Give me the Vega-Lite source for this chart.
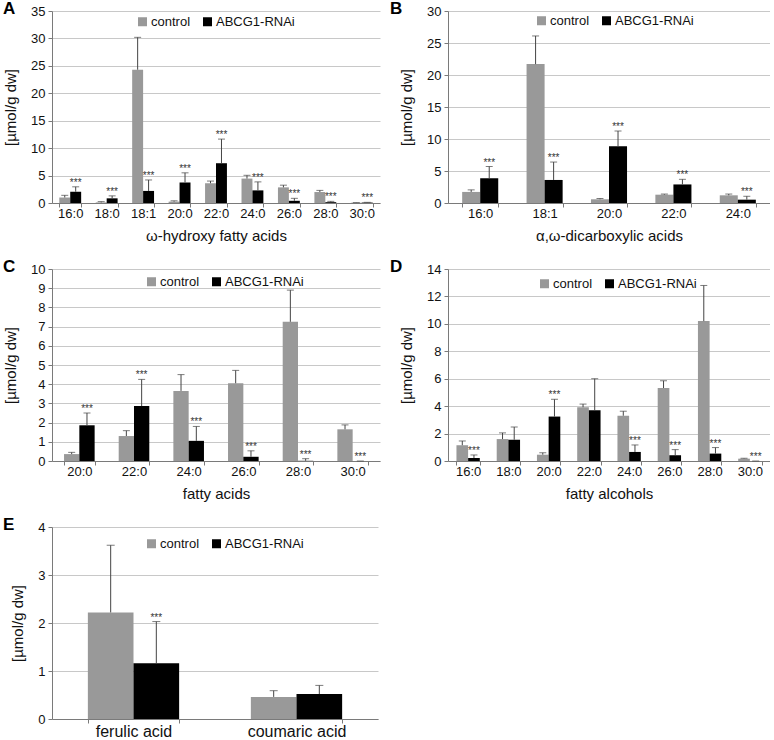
{
  "$schema": "https://vega.github.io/schema/vega-lite/v6.json",
  "padding": {"left": 3, "top": 0, "right": 0, "bottom": 0},
  "background": "white",
  "spacing": {"row": 15, "column": 10},
  "columns": 2,
  "datasets": {
    "A": [
      {"cat": "16:0", "group": "control", "value": 1.0, "err": 1.4, "sig": false},
      {"cat": "16:0", "group": "ABCG1-RNAi", "value": 2.05, "err": 2.95, "sig": true},
      {"cat": "18:0", "group": "control", "value": 0.1, "err": 0.25, "sig": false},
      {"cat": "18:0", "group": "ABCG1-RNAi", "value": 0.85, "err": 1.3, "sig": true},
      {"cat": "18:1", "group": "control", "value": 24.3, "err": 30.2, "sig": false},
      {"cat": "18:1", "group": "ABCG1-RNAi", "value": 2.2, "err": 4.2, "sig": true},
      {"cat": "20:0", "group": "control", "value": 0.25, "err": 0.4, "sig": false},
      {"cat": "20:0", "group": "ABCG1-RNAi", "value": 3.75, "err": 5.5, "sig": true},
      {"cat": "22:0", "group": "control", "value": 3.6, "err": 4.0, "sig": false},
      {"cat": "22:0", "group": "ABCG1-RNAi", "value": 7.25, "err": 11.65, "sig": true},
      {"cat": "24:0", "group": "control", "value": 4.45, "err": 5.05, "sig": false},
      {"cat": "24:0", "group": "ABCG1-RNAi", "value": 2.3, "err": 3.85, "sig": true},
      {"cat": "26:0", "group": "control", "value": 2.85, "err": 3.25, "sig": false},
      {"cat": "26:0", "group": "ABCG1-RNAi", "value": 0.4, "err": 0.85, "sig": true},
      {"cat": "28:0", "group": "control", "value": 2.0, "err": 2.3, "sig": false},
      {"cat": "28:0", "group": "ABCG1-RNAi", "value": 0.15, "err": 0.3, "sig": true},
      {"cat": "30:0", "group": "control", "value": 0.05, "err": 0.08, "sig": false},
      {"cat": "30:0", "group": "ABCG1-RNAi", "value": 0.08, "err": 0.12, "sig": true}
    ],
    "B": [
      {"cat": "16:0", "group": "control", "value": 1.73, "err": 2.05, "sig": false},
      {"cat": "16:0", "group": "ABCG1-RNAi", "value": 3.87, "err": 5.7, "sig": true},
      {"cat": "18:1", "group": "control", "value": 21.7, "err": 26.1, "sig": false},
      {"cat": "18:1", "group": "ABCG1-RNAi", "value": 3.6, "err": 6.4, "sig": true},
      {"cat": "20:0", "group": "control", "value": 0.58, "err": 0.7, "sig": false},
      {"cat": "20:0", "group": "ABCG1-RNAi", "value": 8.85, "err": 11.25, "sig": true},
      {"cat": "22:0", "group": "control", "value": 1.3, "err": 1.4, "sig": false},
      {"cat": "22:0", "group": "ABCG1-RNAi", "value": 2.9, "err": 3.7, "sig": true},
      {"cat": "24:0", "group": "control", "value": 1.2, "err": 1.4, "sig": false},
      {"cat": "24:0", "group": "ABCG1-RNAi", "value": 0.52, "err": 1.05, "sig": true}
    ],
    "C": [
      {"cat": "20:0", "group": "control", "value": 0.36, "err": 0.45, "sig": false},
      {"cat": "20:0", "group": "ABCG1-RNAi", "value": 1.86, "err": 2.5, "sig": true},
      {"cat": "22:0", "group": "control", "value": 1.3, "err": 1.58, "sig": false},
      {"cat": "22:0", "group": "ABCG1-RNAi", "value": 2.86, "err": 4.25, "sig": true},
      {"cat": "24:0", "group": "control", "value": 3.65, "err": 4.5, "sig": false},
      {"cat": "24:0", "group": "ABCG1-RNAi", "value": 1.05, "err": 1.8, "sig": true},
      {"cat": "26:0", "group": "control", "value": 4.05, "err": 4.72, "sig": false},
      {"cat": "26:0", "group": "ABCG1-RNAi", "value": 0.22, "err": 0.53, "sig": true},
      {"cat": "28:0", "group": "control", "value": 7.25, "err": 8.9, "sig": false},
      {"cat": "28:0", "group": "ABCG1-RNAi", "value": 0.01, "err": 0.12, "sig": true},
      {"cat": "30:0", "group": "control", "value": 1.65, "err": 1.88, "sig": false},
      {"cat": "30:0", "group": "ABCG1-RNAi", "value": 0.0, "err": 0.0, "sig": true}
    ],
    "D": [
      {"cat": "16:0", "group": "control", "value": 1.15, "err": 1.46, "sig": false},
      {"cat": "16:0", "group": "ABCG1-RNAi", "value": 0.22, "err": 0.44, "sig": true},
      {"cat": "18:0", "group": "control", "value": 1.6, "err": 2.05, "sig": false},
      {"cat": "18:0", "group": "ABCG1-RNAi", "value": 1.55, "err": 2.48, "sig": false},
      {"cat": "20:0", "group": "control", "value": 0.46, "err": 0.6, "sig": false},
      {"cat": "20:0", "group": "ABCG1-RNAi", "value": 3.24, "err": 4.5, "sig": true},
      {"cat": "22:0", "group": "control", "value": 3.92, "err": 4.15, "sig": false},
      {"cat": "22:0", "group": "ABCG1-RNAi", "value": 3.7, "err": 6.0, "sig": false},
      {"cat": "24:0", "group": "control", "value": 3.3, "err": 3.63, "sig": false},
      {"cat": "24:0", "group": "ABCG1-RNAi", "value": 0.66, "err": 1.17, "sig": true},
      {"cat": "26:0", "group": "control", "value": 5.32, "err": 5.85, "sig": false},
      {"cat": "26:0", "group": "ABCG1-RNAi", "value": 0.42, "err": 0.83, "sig": true},
      {"cat": "28:0", "group": "control", "value": 10.2, "err": 12.8, "sig": false},
      {"cat": "28:0", "group": "ABCG1-RNAi", "value": 0.54, "err": 0.98, "sig": true},
      {"cat": "30:0", "group": "control", "value": 0.17, "err": 0.2, "sig": false},
      {"cat": "30:0", "group": "ABCG1-RNAi", "value": 0.0, "err": 0.0, "sig": true}
    ],
    "E": [
      {"cat": "ferulic acid", "group": "control", "value": 2.22, "err": 3.62, "sig": false},
      {"cat": "ferulic acid", "group": "ABCG1-RNAi", "value": 1.16, "err": 2.03, "sig": true},
      {"cat": "coumaric acid", "group": "control", "value": 0.46, "err": 0.59, "sig": false},
      {"cat": "coumaric acid", "group": "ABCG1-RNAi", "value": 0.52, "err": 0.7, "sig": false}
    ]
  },
  "concat": [
    {
      "width": 328, "height": 192,
      "title": {"text": "A", "anchor": "start", "frame": "group", "dx": -49, "fontSize": 17, "fontWeight": "bold", "offset": -13},
      "data": {"name": "A"},
      "encoding": {
        "x": {"field": "cat", "type": "nominal", "sort": null, "scale": {"type": "band", "paddingInner": 0.4, "paddingOuter": 0.2}, "axis": {"title": "ω-hydroxy fatty acids"}}
      },
      "layer": [
        {"transform": [{"filter": "datum.group == 'control'"}], "mark": {"type": "bar", "width": {"band": 0.5}, "xOffset": -5.47}, "encoding": {
          "y": {"field": "value", "type": "quantitative", "title": "[µmol/g dw]", "scale": {"domain": [0, 35]}, "axis": {"values": [0, 5, 10, 15, 20, 25, 30, 35]}},
          "color": {"field": "group", "type": "nominal", "scale": {"domain": ["control", "ABCG1-RNAi"], "range": ["#999999", "#000000"]}, "legend": {"legendX": 84, "legendY": 4}}}},
        {"transform": [{"filter": "datum.group != 'control'"}], "mark": {"type": "bar", "width": {"band": 0.5}, "xOffset": 5.47}, "encoding": {
          "y": {"field": "value", "type": "quantitative", "title": "[µmol/g dw]", "axis": {"values": [0, 5, 10, 15, 20, 25, 30, 35]}},
          "color": {"field": "group", "type": "nominal"}}},
        {"transform": [{"filter": "datum.group == 'control'"}], "mark": {"type": "rule", "color": "#444444", "xOffset": -5.47}, "encoding": {"y": {"field": "value", "type": "quantitative", "title": "[µmol/g dw]", "axis": {"values": [0, 5, 10, 15, 20, 25, 30, 35]}}, "y2": {"field": "err"}}},
        {"transform": [{"filter": "datum.group != 'control'"}], "mark": {"type": "rule", "color": "#444444", "xOffset": 5.47}, "encoding": {"y": {"field": "value", "type": "quantitative", "title": "[µmol/g dw]", "axis": {"values": [0, 5, 10, 15, 20, 25, 30, 35]}}, "y2": {"field": "err"}}},
        {"transform": [{"filter": "datum.group == 'control'"}], "mark": {"type": "tick", "color": "#444444", "thickness": 1, "size": 7, "xOffset": -5.47}, "encoding": {"y": {"field": "err", "type": "quantitative", "title": "[µmol/g dw]", "axis": {"values": [0, 5, 10, 15, 20, 25, 30, 35]}}}},
        {"transform": [{"filter": "datum.group != 'control'"}], "mark": {"type": "tick", "color": "#444444", "thickness": 1, "size": 7, "xOffset": 5.47}, "encoding": {"y": {"field": "err", "type": "quantitative", "title": "[µmol/g dw]", "axis": {"values": [0, 5, 10, 15, 20, 25, 30, 35]}}}},
        {"transform": [{"filter": "datum.sig && datum.group != 'control'"}], "mark": {"type": "text", "text": "***", "fontSize": 10, "dy": -1, "xOffset": 5.47, "baseline": "alphabetic", "color": "#333333"}, "encoding": {"y": {"field": "err", "type": "quantitative", "title": "[µmol/g dw]", "axis": {"values": [0, 5, 10, 15, 20, 25, 30, 35]}}}}
      ]
    },
    {
      "width": 322, "height": 192,
      "title": {"text": "B", "anchor": "start", "frame": "group", "dx": -58, "fontSize": 17, "fontWeight": "bold", "offset": -13},
      "data": {"name": "B"},
      "encoding": {
        "x": {"field": "cat", "type": "nominal", "sort": null, "scale": {"type": "band", "paddingInner": 0.44, "paddingOuter": 0.22}, "axis": {"title": "α,ω-dicarboxylic acids"}}
      },
      "layer": [
        {"transform": [{"filter": "datum.group == 'control'"}], "mark": {"type": "bar", "width": {"band": 0.5}, "xOffset": -9.02}, "encoding": {
          "y": {"field": "value", "type": "quantitative", "title": "[µmol/g dw]", "scale": {"domain": [0, 30]}, "axis": {"values": [0, 5, 10, 15, 20, 25, 30]}},
          "color": {"field": "group", "type": "nominal", "scale": {"domain": ["control", "ABCG1-RNAi"], "range": ["#999999", "#000000"]}, "legend": {"legendX": 87, "legendY": 3}}}},
        {"transform": [{"filter": "datum.group != 'control'"}], "mark": {"type": "bar", "width": {"band": 0.5}, "xOffset": 9.02}, "encoding": {
          "y": {"field": "value", "type": "quantitative", "title": "[µmol/g dw]", "axis": {"values": [0, 5, 10, 15, 20, 25, 30]}},
          "color": {"field": "group", "type": "nominal"}}},
        {"transform": [{"filter": "datum.group == 'control'"}], "mark": {"type": "rule", "color": "#444444", "xOffset": -9.02}, "encoding": {"y": {"field": "value", "type": "quantitative", "title": "[µmol/g dw]", "axis": {"values": [0, 5, 10, 15, 20, 25, 30]}}, "y2": {"field": "err"}}},
        {"transform": [{"filter": "datum.group != 'control'"}], "mark": {"type": "rule", "color": "#444444", "xOffset": 9.02}, "encoding": {"y": {"field": "value", "type": "quantitative", "title": "[µmol/g dw]", "axis": {"values": [0, 5, 10, 15, 20, 25, 30]}}, "y2": {"field": "err"}}},
        {"transform": [{"filter": "datum.group == 'control'"}], "mark": {"type": "tick", "color": "#444444", "thickness": 1, "size": 7, "xOffset": -9.02}, "encoding": {"y": {"field": "err", "type": "quantitative", "title": "[µmol/g dw]", "axis": {"values": [0, 5, 10, 15, 20, 25, 30]}}}},
        {"transform": [{"filter": "datum.group != 'control'"}], "mark": {"type": "tick", "color": "#444444", "thickness": 1, "size": 7, "xOffset": 9.02}, "encoding": {"y": {"field": "err", "type": "quantitative", "title": "[µmol/g dw]", "axis": {"values": [0, 5, 10, 15, 20, 25, 30]}}}},
        {"transform": [{"filter": "datum.sig && datum.group != 'control'"}], "mark": {"type": "text", "text": "***", "fontSize": 10, "dy": -1, "xOffset": 9.02, "baseline": "alphabetic", "color": "#333333"}, "encoding": {"y": {"field": "err", "type": "quantitative", "title": "[µmol/g dw]", "axis": {"values": [0, 5, 10, 15, 20, 25, 30]}}}}
      ]
    },
    {
      "width": 328, "height": 192,
      "title": {"text": "C", "anchor": "start", "frame": "group", "dx": -49, "fontSize": 17, "fontWeight": "bold", "offset": -13},
      "data": {"name": "C"},
      "encoding": {
        "x": {"field": "cat", "type": "nominal", "sort": null, "scale": {"type": "band", "paddingInner": 0.44, "paddingOuter": 0.22}, "axis": {"title": "fatty acids"}}
      },
      "layer": [
        {"transform": [{"filter": "datum.group == 'control'"}], "mark": {"type": "bar", "width": {"band": 0.5}, "xOffset": -7.65}, "encoding": {
          "y": {"field": "value", "type": "quantitative", "title": "[µmol/g dw]", "scale": {"domain": [0, 10]}, "axis": {"values": [0, 1, 2, 3, 4, 5, 6, 7, 8, 9, 10]}},
          "color": {"field": "group", "type": "nominal", "scale": {"domain": ["control", "ABCG1-RNAi"], "range": ["#999999", "#000000"]}, "legend": {"legendX": 93, "legendY": 6}}}},
        {"transform": [{"filter": "datum.group != 'control'"}], "mark": {"type": "bar", "width": {"band": 0.5}, "xOffset": 7.65}, "encoding": {
          "y": {"field": "value", "type": "quantitative", "title": "[µmol/g dw]", "axis": {"values": [0, 1, 2, 3, 4, 5, 6, 7, 8, 9, 10]}},
          "color": {"field": "group", "type": "nominal"}}},
        {"transform": [{"filter": "datum.group == 'control'"}], "mark": {"type": "rule", "color": "#444444", "xOffset": -7.65}, "encoding": {"y": {"field": "value", "type": "quantitative", "title": "[µmol/g dw]", "axis": {"values": [0, 1, 2, 3, 4, 5, 6, 7, 8, 9, 10]}}, "y2": {"field": "err"}}},
        {"transform": [{"filter": "datum.group != 'control'"}], "mark": {"type": "rule", "color": "#444444", "xOffset": 7.65}, "encoding": {"y": {"field": "value", "type": "quantitative", "title": "[µmol/g dw]", "axis": {"values": [0, 1, 2, 3, 4, 5, 6, 7, 8, 9, 10]}}, "y2": {"field": "err"}}},
        {"transform": [{"filter": "datum.group == 'control'"}], "mark": {"type": "tick", "color": "#444444", "thickness": 1, "size": 7, "xOffset": -7.65}, "encoding": {"y": {"field": "err", "type": "quantitative", "title": "[µmol/g dw]", "axis": {"values": [0, 1, 2, 3, 4, 5, 6, 7, 8, 9, 10]}}}},
        {"transform": [{"filter": "datum.group != 'control'"}], "mark": {"type": "tick", "color": "#444444", "thickness": 1, "size": 7, "xOffset": 7.65}, "encoding": {"y": {"field": "err", "type": "quantitative", "title": "[µmol/g dw]", "axis": {"values": [0, 1, 2, 3, 4, 5, 6, 7, 8, 9, 10]}}}},
        {"transform": [{"filter": "datum.sig && datum.group != 'control'"}], "mark": {"type": "text", "text": "***", "fontSize": 10, "dy": -1, "xOffset": 7.65, "baseline": "alphabetic", "color": "#333333"}, "encoding": {"y": {"field": "err", "type": "quantitative", "title": "[µmol/g dw]", "axis": {"values": [0, 1, 2, 3, 4, 5, 6, 7, 8, 9, 10]}}}}
      ]
    },
    {
      "width": 322, "height": 192,
      "title": {"text": "D", "anchor": "start", "frame": "group", "dx": -58, "fontSize": 17, "fontWeight": "bold", "offset": -13},
      "data": {"name": "D"},
      "encoding": {
        "x": {"field": "cat", "type": "nominal", "sort": null, "scale": {"type": "band", "paddingInner": 0.42, "paddingOuter": 0.21}, "axis": {"title": "fatty alcohols"}}
      },
      "layer": [
        {"transform": [{"filter": "datum.group == 'control'"}], "mark": {"type": "bar", "width": {"band": 0.5}, "xOffset": -5.84}, "encoding": {
          "y": {"field": "value", "type": "quantitative", "title": "[µmol/g dw]", "scale": {"domain": [0, 14]}, "axis": {"values": [0, 2, 4, 6, 8, 10, 12, 14]}},
          "color": {"field": "group", "type": "nominal", "scale": {"domain": ["control", "ABCG1-RNAi"], "range": ["#999999", "#000000"]}, "legend": {"legendX": 90, "legendY": 8}}}},
        {"transform": [{"filter": "datum.group != 'control'"}], "mark": {"type": "bar", "width": {"band": 0.5}, "xOffset": 5.84}, "encoding": {
          "y": {"field": "value", "type": "quantitative", "title": "[µmol/g dw]", "axis": {"values": [0, 2, 4, 6, 8, 10, 12, 14]}},
          "color": {"field": "group", "type": "nominal"}}},
        {"transform": [{"filter": "datum.group == 'control'"}], "mark": {"type": "rule", "color": "#444444", "xOffset": -5.84}, "encoding": {"y": {"field": "value", "type": "quantitative", "title": "[µmol/g dw]", "axis": {"values": [0, 2, 4, 6, 8, 10, 12, 14]}}, "y2": {"field": "err"}}},
        {"transform": [{"filter": "datum.group != 'control'"}], "mark": {"type": "rule", "color": "#444444", "xOffset": 5.84}, "encoding": {"y": {"field": "value", "type": "quantitative", "title": "[µmol/g dw]", "axis": {"values": [0, 2, 4, 6, 8, 10, 12, 14]}}, "y2": {"field": "err"}}},
        {"transform": [{"filter": "datum.group == 'control'"}], "mark": {"type": "tick", "color": "#444444", "thickness": 1, "size": 7, "xOffset": -5.84}, "encoding": {"y": {"field": "err", "type": "quantitative", "title": "[µmol/g dw]", "axis": {"values": [0, 2, 4, 6, 8, 10, 12, 14]}}}},
        {"transform": [{"filter": "datum.group != 'control'"}], "mark": {"type": "tick", "color": "#444444", "thickness": 1, "size": 7, "xOffset": 5.84}, "encoding": {"y": {"field": "err", "type": "quantitative", "title": "[µmol/g dw]", "axis": {"values": [0, 2, 4, 6, 8, 10, 12, 14]}}}},
        {"transform": [{"filter": "datum.sig && datum.group != 'control'"}], "mark": {"type": "text", "text": "***", "fontSize": 10, "dy": -1, "xOffset": 5.84, "baseline": "alphabetic", "color": "#333333"}, "encoding": {"y": {"field": "err", "type": "quantitative", "title": "[µmol/g dw]", "axis": {"values": [0, 2, 4, 6, 8, 10, 12, 14]}}}}
      ]
    },
    {
      "width": 326, "height": 192,
      "title": {"text": "E", "anchor": "start", "frame": "group", "dx": -49, "fontSize": 17, "fontWeight": "bold", "offset": -13},
      "data": {"name": "E"},
      "encoding": {
        "x": {"field": "cat", "type": "nominal", "sort": null, "scale": {"type": "band", "paddingInner": 0.44, "paddingOuter": 0.22}, "axis": {"title": null, "labelFontSize": 16}}
      },
      "layer": [
        {"transform": [{"filter": "datum.group == 'control'"}], "mark": {"type": "bar", "width": {"band": 0.5}, "xOffset": -22.82}, "encoding": {
          "y": {"field": "value", "type": "quantitative", "title": "[µmol/g dw]", "scale": {"domain": [0, 4]}, "axis": {"values": [0, 1, 2, 3, 4]}},
          "color": {"field": "group", "type": "nominal", "scale": {"domain": ["control", "ABCG1-RNAi"], "range": ["#999999", "#000000"]}, "legend": {"legendX": 93, "legendY": 10}}}},
        {"transform": [{"filter": "datum.group != 'control'"}], "mark": {"type": "bar", "width": {"band": 0.5}, "xOffset": 22.82}, "encoding": {
          "y": {"field": "value", "type": "quantitative", "title": "[µmol/g dw]", "axis": {"values": [0, 1, 2, 3, 4]}},
          "color": {"field": "group", "type": "nominal"}}},
        {"transform": [{"filter": "datum.group == 'control'"}], "mark": {"type": "rule", "color": "#444444", "xOffset": -22.82}, "encoding": {"y": {"field": "value", "type": "quantitative", "title": "[µmol/g dw]", "axis": {"values": [0, 1, 2, 3, 4]}}, "y2": {"field": "err"}}},
        {"transform": [{"filter": "datum.group != 'control'"}], "mark": {"type": "rule", "color": "#444444", "xOffset": 22.82}, "encoding": {"y": {"field": "value", "type": "quantitative", "title": "[µmol/g dw]", "axis": {"values": [0, 1, 2, 3, 4]}}, "y2": {"field": "err"}}},
        {"transform": [{"filter": "datum.group == 'control'"}], "mark": {"type": "tick", "color": "#444444", "thickness": 1, "size": 8, "xOffset": -22.82}, "encoding": {"y": {"field": "err", "type": "quantitative", "title": "[µmol/g dw]", "axis": {"values": [0, 1, 2, 3, 4]}}}},
        {"transform": [{"filter": "datum.group != 'control'"}], "mark": {"type": "tick", "color": "#444444", "thickness": 1, "size": 8, "xOffset": 22.82}, "encoding": {"y": {"field": "err", "type": "quantitative", "title": "[µmol/g dw]", "axis": {"values": [0, 1, 2, 3, 4]}}}},
        {"transform": [{"filter": "datum.sig && datum.group != 'control'"}], "mark": {"type": "text", "text": "***", "fontSize": 10, "dy": -1, "xOffset": 22.82, "baseline": "alphabetic", "color": "#333333"}, "encoding": {"y": {"field": "err", "type": "quantitative", "title": "[µmol/g dw]", "axis": {"values": [0, 1, 2, 3, 4]}}}}
      ]
    }
  ],
  "resolve": {"scale": {"color": "independent"}, "legend": {"color": "independent"}},
  "config": {
    "font": "Liberation Sans",
    "view": {"stroke": null},
    "title": {"color": "#000000"},
    "axis": {
      "labelFontSize": 13, "titleFontSize": 15, "titleFontWeight": "normal",
      "labelColor": "#111111", "titleColor": "#111111",
      "domainColor": "#7a7a7a", "tickColor": "#7a7a7a", "gridColor": "#c8c8c8",
      "tickSize": 4
    },
    "axisX": {"grid": false, "labelAngle": 0, "tickBand": "extent", "labelPadding": 0, "titlePadding": 8},
    "axisY": {"grid": true, "labelPadding": 3, "titlePadding": 12},
    "legend": {
      "orient": "none", "direction": "horizontal", "title": null,
      "symbolType": "square", "symbolSize": 81, "symbolStrokeWidth": 0,
      "labelFontSize": 13, "labelColor": "#111111", "columnPadding": 10, "labelOffset": 2
    }
  }
}
